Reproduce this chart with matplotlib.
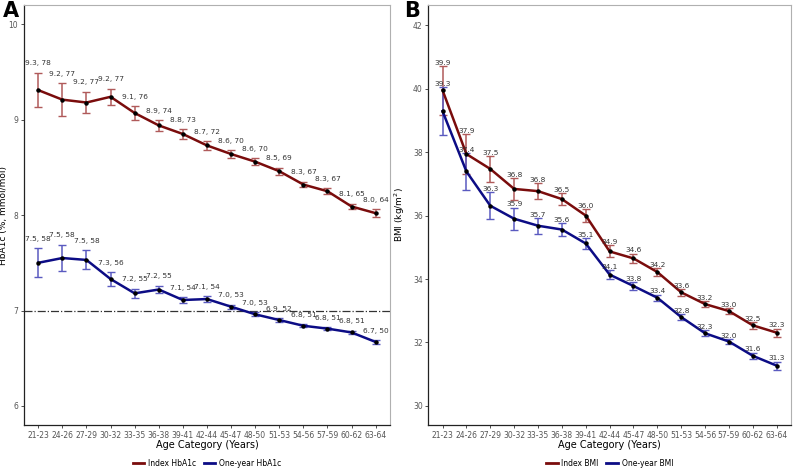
import numpy as np
import matplotlib.pyplot as plt

# --------------------------------------------------------------------------- #
# Data
# --------------------------------------------------------------------------- #
ages = ["21-23", "24-26", "27-29", "30-32", "33-35", "36-38", "39-41", "42-44",
        "45-47", "48-50", "51-53", "54-56", "57-59", "60-62", "63-64"]

hba1cIndex = [9.31, 9.21, 9.18, 9.24, 9.07, 8.94, 8.85, 8.73, 8.64, 8.56,
              8.46, 8.32, 8.25, 8.09, 8.02]
hba1cIndexErr = [0.18, 0.17, 0.11, 0.085, 0.07, 0.055, 0.05, 0.045, 0.04, 0.035,
                 0.035, 0.03, 0.03, 0.03, 0.04]
hba1cIndexLbl = ["9.3, 78", "9.2, 77", "9.2, 77", "9.2, 77", "9.1, 76", "8.9, 74",
                 "8.8, 73", "8.7, 72", "8.6, 70", "8.6, 70", "8.5, 69", "8.3, 67",
                 "8.3, 67", "8.1, 65", "8.0, 64"]

hba1cYear = [7.50, 7.55, 7.53, 7.33, 7.18, 7.22, 7.11, 7.12, 7.04, 6.96,
             6.90, 6.84, 6.81, 6.77, 6.67]
hba1cYearErr = [0.15, 0.14, 0.10, 0.07, 0.05, 0.04, 0.03, 0.03, 0.02, 0.02,
                0.02, 0.015, 0.015, 0.015, 0.02]
hba1cYearLbl = ["7.5, 58", "7.5, 58", "7.5, 58", "7.3, 56", "7.2, 55", "7.2, 55",
                "7.1, 54", "7.1, 54", "7.0, 53", "7.0, 53", "6.9, 52", "6.8, 51",
                "6.8, 51", "6.8, 51", "6.7, 50"]

bmiIndex = [39.95, 37.94, 37.47, 36.84, 36.77, 36.52, 36.0, 34.87, 34.65, 34.22,
            33.58, 33.21, 32.99, 32.54, 32.31]
bmiIndexErr = [0.77, 0.62, 0.41, 0.34, 0.26, 0.2, 0.2, 0.19, 0.15, 0.12,
               0.1, 0.1, 0.1, 0.1, 0.13]
bmiIndexLbl = ["39.9", "37.9", "37.5", "36.8", "36.8", "36.5", "36.0", "34.9",
               "34.6", "34.2", "33.6", "33.2", "33.0", "32.5", "32.3"]

bmiYear = [39.29, 37.39, 36.31, 35.90, 35.68, 35.56, 35.12, 34.14, 33.78, 33.41,
           32.80, 32.29, 32.03, 31.58, 31.27]
bmiYearErr = [0.76, 0.59, 0.43, 0.35, 0.25, 0.2, 0.18, 0.15, 0.12, 0.1,
              0.1, 0.09, 0.09, 0.1, 0.13]
bmiYearLbl = ["39.3", "37.4", "36.3", "35.9", "35.7", "35.6", "35.1", "34.1",
              "33.8", "33.4", "32.8", "32.3", "32.0", "31.6", "31.3"]

RED = "#7a0c0c";
BLUE = "#0c0c85";
ERR_RED = "#b05a5a";
ERR_BLUE = "#5a5ac0";

# --------------------------------------------------------------------------- #
# Plotting helpers
# --------------------------------------------------------------------------- #
def plotSeries(ax, y, err, labels, color, errColor, lblOffset):
  x = np.arange(len(y));
  ax.errorbar(x, y, yerr=err, fmt='none', ecolor=errColor, elinewidth=1.1,
              capsize=3, capthick=1.0, zorder=2);
  ax.plot(x, y, color=color, linewidth=1.8, zorder=3);
  ax.plot(x, y, 'o', color='black', markersize=2.2, zorder=4);
  for xi, yi, ei, lbl in zip(x, y, err, labels):
    ax.text(xi, yi + ei + lblOffset, lbl, ha='center', va='center',
            fontsize=5.3, color='#333333', zorder=5);


def styleAxes(ax, ylim, yticks, ylabel, ylabelX):
  ax.set_xlim(-0.6, len(ages) - 0.4);
  ax.set_ylim(*ylim);
  ax.set_xticks(np.arange(len(ages)));
  ax.set_xticklabels(ages);
  ax.set_yticks(yticks);
  ax.tick_params(axis='both', labelsize=5.5, labelcolor='#555555', length=2.5,
                 width=0.6, color='#333333', pad=1.5);
  for s in ['top', 'right']:
    ax.spines[s].set_color('#b0b0b0');
    ax.spines[s].set_linewidth(0.8);
  for s in ['left', 'bottom']:
    ax.spines[s].set_color('#222222');
    ax.spines[s].set_linewidth(0.9);
  ax.set_xlabel("Age Category (Years)", fontsize=7, labelpad=0.5);
  ax.set_ylabel(ylabel, fontsize=6.5);
  ax.yaxis.set_label_coords(ylabelX, 0.5);


# --------------------------------------------------------------------------- #
# Main
# --------------------------------------------------------------------------- #
fig = plt.figure(figsize=(7.93, 4.73), dpi=100);
axA = fig.add_axes([0.030, 0.1015, 0.462, 0.8875]);
axB = fig.add_axes([0.540, 0.1015, 0.4575, 0.8875]);

plotSeries(axA, hba1cIndex, hba1cIndexErr, hba1cIndexLbl, RED, ERR_RED, 0.1);
plotSeries(axA, hba1cYear, hba1cYearErr, hba1cYearLbl, BLUE, ERR_BLUE, 0.1);
axA.axhline(7, color='#333333', linestyle='-.', linewidth=0.9, zorder=1);
styleAxes(axA, (5.8, 10.2), [6, 7, 8, 9, 10], "HbA1c (%, mmol/mol)", -0.042);

plotSeries(axB, bmiIndex, bmiIndexErr, bmiIndexLbl, RED, ERR_RED, 0.1);
plotSeries(axB, bmiYear, bmiYearErr, bmiYearLbl, BLUE, ERR_BLUE, 0.1);
styleAxes(axB, (29.4, 42.63), [30, 32, 34, 36, 38, 40, 42], "BMI (kg/m$^2$)", -0.059);

# Panel letters
fig.text(0.004, 0.997, "A", fontsize=15, fontweight='bold', va='top', ha='left');
fig.text(0.509, 0.997, "B", fontsize=15, fontweight='bold', va='top', ha='left');

# Legends
for ax, names in [(axA, ["Index HbA1c", "One-year HbA1c"]),
                  (axB, ["Index BMI", "One-year BMI"])]:
  h1, = ax.plot([], [], color=RED, linewidth=2);
  h2, = ax.plot([], [], color=BLUE, linewidth=2);
  pos = ax.get_position();
  fig.legend([h1, h2], names, loc='center',
             bbox_to_anchor=((pos.x0 + pos.x1) / 2, 0.021), ncol=2,
             frameon=False, fontsize=5.5, handlelength=1.5, columnspacing=1.0,
             handletextpad=0.5);

plt.savefig("out.png", dpi=100);
